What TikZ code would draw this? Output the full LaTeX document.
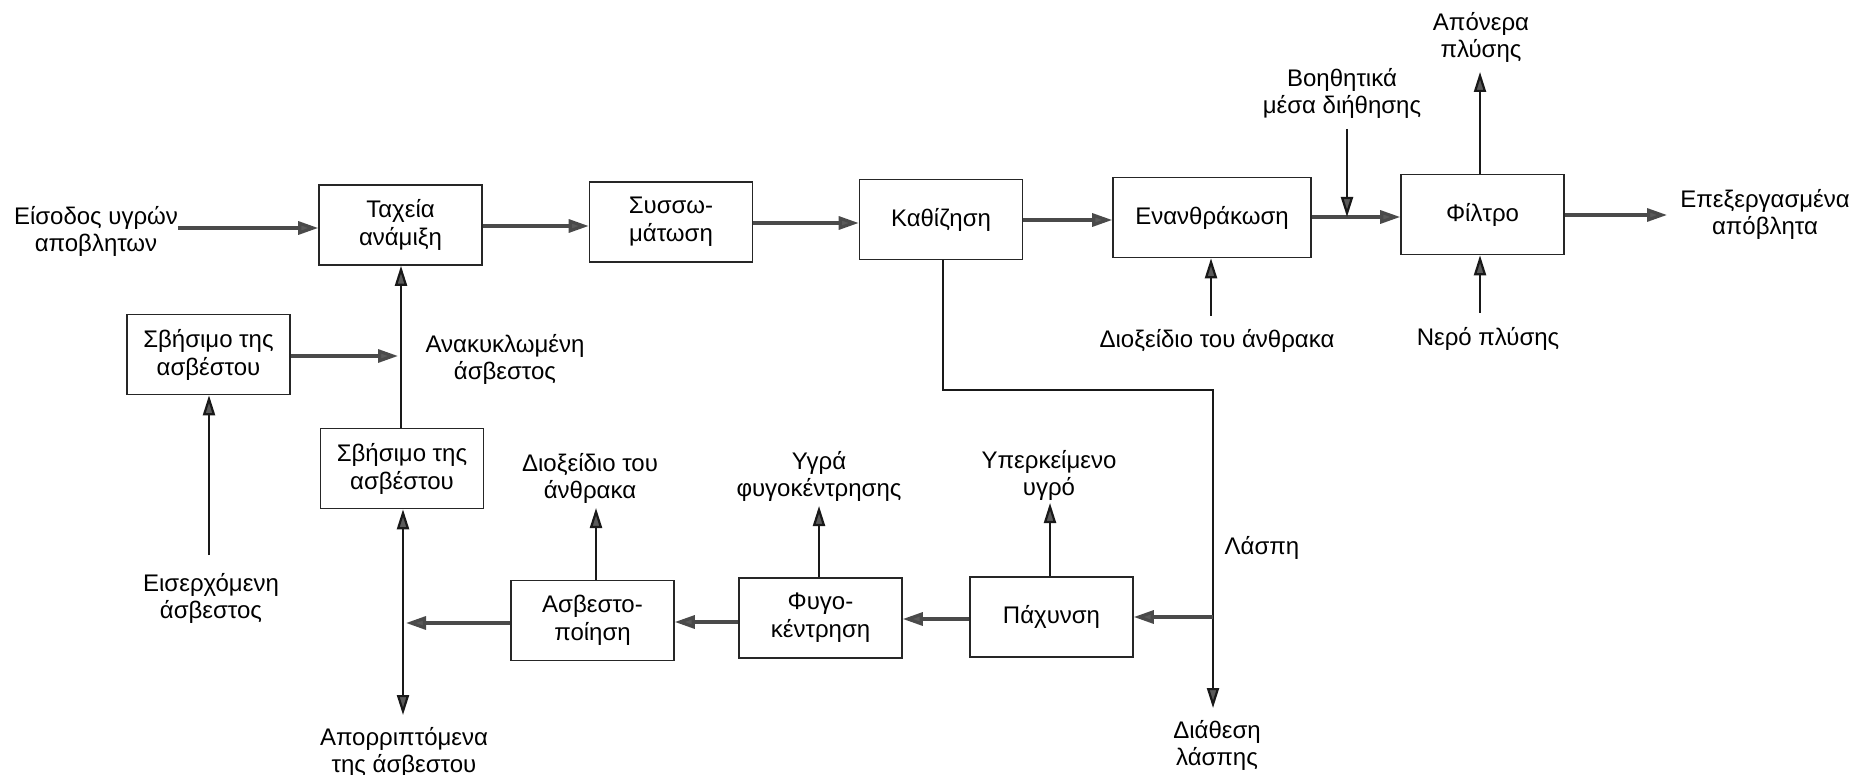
\documentclass[tikz,border=0pt]{standalone}
\usepackage{fontspec}
\setmainfont{Liberation Sans}
\usetikzlibrary{arrows.meta}
\definecolor{shaft}{HTML}{4A4A4A}
\definecolor{tipc}{HTML}{5A5A5A}
\tikzset{
  box/.style={draw=black!85, line width=1.6pt, minimum width=163pt, minimum height=80pt,
    inner sep=0pt, align=center, font=\fontsize{24}{28}\selectfont},
  lbl/.style={align=center, inner sep=0pt, font=\fontsize{24}{27}\selectfont},
  harrow/.style={draw=shaft, line width=3.2pt, -{Triangle[length=20pt,width=13pt,fill=tipc]}},
  varrow/.style={draw=black!90, line width=2.2pt, -{Triangle[length=20pt,width=12pt,fill=tipc]}},
  dvarrow/.style={draw=black!90, line width=2.2pt, {Triangle[length=20pt,width=12pt,fill=tipc]}-{Triangle[length=20pt,width=12pt,fill=tipc]}},
  pline/.style={draw=black!90, line width=2.2pt},
}
\begin{document}
\begin{tikzpicture}[x=1pt,y=-1pt]
\useasboundingbox (0,0) rectangle (1862,775);
% boxes
\node[box] (tax) at (400.5,225) {Ταχεία\\ανάμιξη};
\node[box] (syss) at (671,222) {Συσσω-\\μάτωση};
\node[box] (kath) at (941,219.5) {Καθίζηση};
\node[box, minimum width=198pt] (enan) at (1212,217.5) {Ενανθράκωση};
\node[box] (filt) at (1482.5,214.5) {Φίλτρο};
\node[box] (sbL) at (208.5,354.5) {Σβήσιμο της\\ασβέστου};
\node[box] (sbB) at (402,468.5) {Σβήσιμο της\\ασβέστου};
\node[box] (asb) at (592.5,620.5) {Ασβεστο-\\ποίηση};
\node[box] (fyg) at (820.5,618) {Φυγο-\\κέντρηση};
\node[box] (pach) at (1051.5,617) {Πάχυνση};
% labels
\node[lbl] (lin) at (96,231) {Είσοδος υγρών\\αποβλητων};
\node[lbl] (lout) at (1765,214) {Επεξεργασμένα\\απόβλητα};
\node[lbl] (lboi) at (1342,93) {Βοηθητικά\\μέσα διήθησης};
\node[lbl] (lapo) at (1481,37) {Απόνερα\\πλύσης};
\node[lbl] (lner) at (1488,339) {Νερό πλύσης};
\node[lbl] (ldio) at (1217,341) {Διοξείδιο του άνθρακα};
\node[lbl] (llas) at (1262,548) {Λάσπη};
\node[lbl] (ldia) at (1217,745) {Διάθεση\\λάσπης};
\node[lbl] (lyper) at (1049,475) {Υπερκείμενο\\υγρό};
\node[lbl] (lygr) at (819,476) {Υγρά\\φυγοκέντρησης};
\node[lbl] (ldio2) at (590,478) {Διοξείδιο του\\άνθρακα};
\node[lbl] (lapor) at (404,752) {Απορριπτόμενα\\της άσβεστου};
\node[lbl] (lanak) at (505,359) {Ανακυκλωμένη\\άσβεστος};
\node[lbl] (leis) at (211,598) {Εισερχόμενη\\άσβεστος};
% coordinates
\coordinate (inS) at (178,228);
\coordinate (outE) at (1667,215);
\coordinate (boiS) at (1347,129);
\coordinate (boiE) at (1347,217);
\coordinate (apoE) at (1480,72);
\coordinate (nerS) at (1480,313);
\coordinate (dioS) at (1211,316);
\coordinate (k1) at (943,390);
\coordinate (k2) at (1213,390);
\coordinate (kE) at (1213,708);
\coordinate (kP) at (1213,617);
\coordinate (ypE) at (1050,503);
\coordinate (ygE) at (819,506);
\coordinate (d2E) at (596,508);
\coordinate (aspE) at (406,623);
\coordinate (apE) at (403,715);
\coordinate (anE) at (398,356);
\coordinate (eisS) at (209,555);
% connectors
\draw[harrow] (inS) -- (inS -| tax.west);
\draw[harrow] (tax.east |- 0,226) -- (syss.west |- 0,226);
\draw[harrow] (syss.east |- 0,223) -- (kath.west |- 0,223);
\draw[harrow] (kath.east |- 0,220) -- (enan.west |- 0,220);
\draw[harrow] (enan.east |- 0,217) -- (filt.west |- 0,217);
\draw[harrow] (filt.east |- 0,215) -- (outE);
\draw[varrow] (boiS) -- (boiE);
\draw[varrow] (filt.north -| apoE) -- (apoE);
\draw[varrow] (nerS) -- (nerS |- filt.south);
\draw[varrow] (dioS) -- (dioS |- enan.south);
\draw[pline] (kath.south -| k1) -- (k1) -- (k2) -- (kP);
\draw[varrow] (kP) -- (kE);
\draw[harrow] (kP) -- (kP -| pach.east);
\draw[harrow] (pach.west |- 0,619) -- (fyg.east |- 0,619);
\draw[harrow] (fyg.west |- 0,622) -- (asb.east |- 0,622);
\draw[harrow] (asb.west |- 0,623) -- (aspE);
\draw[varrow] (pach.north -| ypE) -- (ypE);
\draw[varrow] (fyg.north -| ygE) -- (ygE);
\draw[varrow] (asb.north -| d2E) -- (d2E);
\draw[dvarrow] (sbB.south -| apE) -- (apE);
\draw[varrow] (sbB.north -| 401,0) -- (tax.south -| 401,0);
\draw[harrow] (sbL.east |- anE) -- (anE);
\draw[varrow] (eisS) -- (eisS |- sbL.south);
\end{tikzpicture}
\end{document}
